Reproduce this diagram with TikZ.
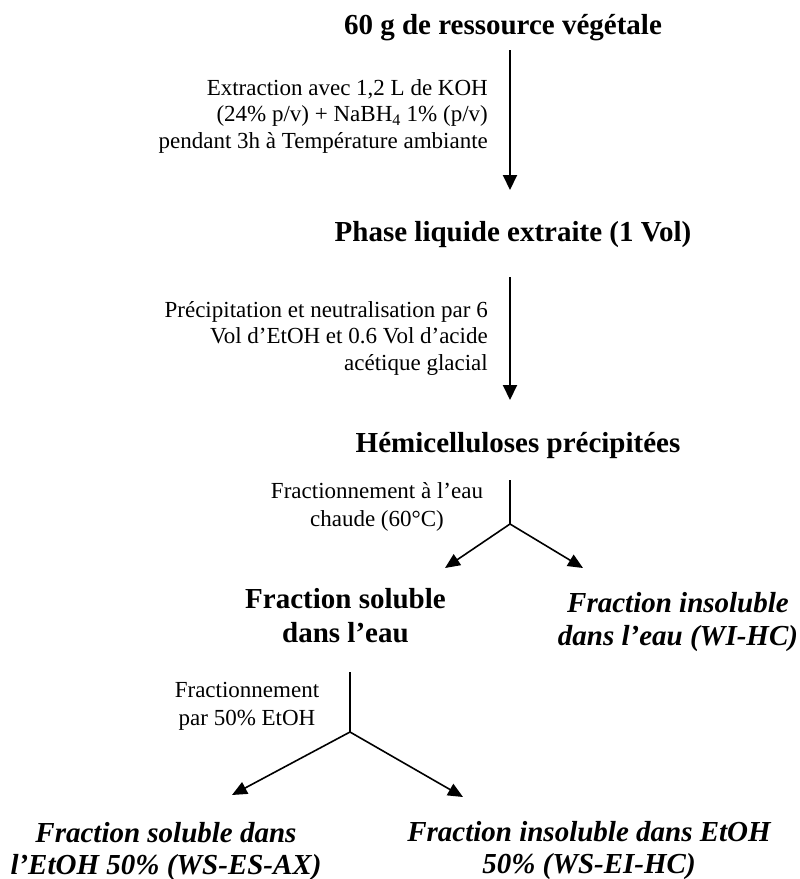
\documentclass[tikz,border=0pt]{standalone}
\usepackage{fontspec}
\setmainfont{Liberation Serif}
\usetikzlibrary{arrows.meta}

% Multi-line nodes are placed by the baseline of their last line.
\tikzset{
  stage/.style={inner sep=0pt, anchor=base, align=center,
    font=\fontsize{29}{34}\selectfont\bfseries},
  result/.style={inner sep=0pt, anchor=base, align=center,
    font=\fontsize{29}{31.5}\selectfont\bfseries\itshape},
  cond/.style={inner sep=0pt, font=\fontsize{23}{26.5}\selectfont},
  condwide/.style={inner sep=0pt, font=\fontsize{23}{28}\selectfont},
  flow/.style={line width=2pt, -{Triangle[length=15pt,width=14pt]}},
  stem/.style={line width=2pt},
  branch/.style={line width=1.6pt, -{Triangle[length=15pt,width=13pt]}}
}

\begin{document}
\begin{tikzpicture}[x=1pt,y=-1pt]
  \useasboundingbox (0,0) rectangle (800,879);

  % main stages
  \node[stage] (res)   at (503,34)  {60 g de ressource végétale};
  \node[stage] (phase) at (513,241) {Phase liquide extraite (1 Vol)};
  \node[stage] (hemi)  at (518,452) {Hémicelluloses précipitées};
  \node[stage] (ws)    at (345.5,642) {Fraction soluble\\dans l’eau};
  \node[result, font=\fontsize{29}{33}\selectfont\bfseries\itshape] (wi)
    at (678,645) {Fraction insoluble\\dans l’eau (WI-HC)};
  \node[result] (es)   at (166,874) {Fraction soluble dans\\l’EtOH 50\% (WS-ES-AX)};
  \node[result] (ei)   at (589,873) {Fraction insoluble dans EtOH\\50\% (WS-EI-HC)};

  % treatment conditions
  \node[cond, anchor=base east, align=right] (c1) at (488,148)
    {Extraction avec 1,2 L de KOH\\(24\% p/v) + NaBH\textsubscript{4} 1\% (p/v)\\pendant 3h à Température ambiante};
  \node[cond, anchor=base east, align=right] (c2) at (488,370)
    {Précipitation et neutralisation par 6\\Vol d’EtOH et 0.6 Vol d’acide\\acétique glacial};
  \node[condwide, anchor=base, align=center] (c3) at (377,526)
    {Fractionnement à l’eau\\chaude (60°C)};
  \node[condwide, anchor=base, align=center] (c4) at (247,725)
    {Fractionnement\\par 50\% EtOH};

  % connector end points
  \coordinate (r1) at (510,50);
  \coordinate (p1) at (510,190);
  \coordinate (r2) at (510,277);
  \coordinate (p2) at (510,400);
  \coordinate (s1top) at (510,480);
  \coordinate (s1) at (510,524);
  \coordinate (s1l) at (445,568);
  \coordinate (s1r) at (583,568);
  \coordinate (s2top) at (350,672);
  \coordinate (s2) at (350,732);
  \coordinate (s2l) at (232,795);
  \coordinate (s2r) at (463,797);

  % connectors
  \draw[flow] (r1) -- (p1);
  \draw[flow] (r2) -- (p2);
  \draw[stem] (s1top) -- (s1);
  \draw[branch] (s1) -- (s1l);
  \draw[branch] (s1) -- (s1r);
  \draw[stem] (s2top) -- (s2);
  \draw[branch] (s2) -- (s2l);
  \draw[branch] (s2) -- (s2r);
\end{tikzpicture}
\end{document}
